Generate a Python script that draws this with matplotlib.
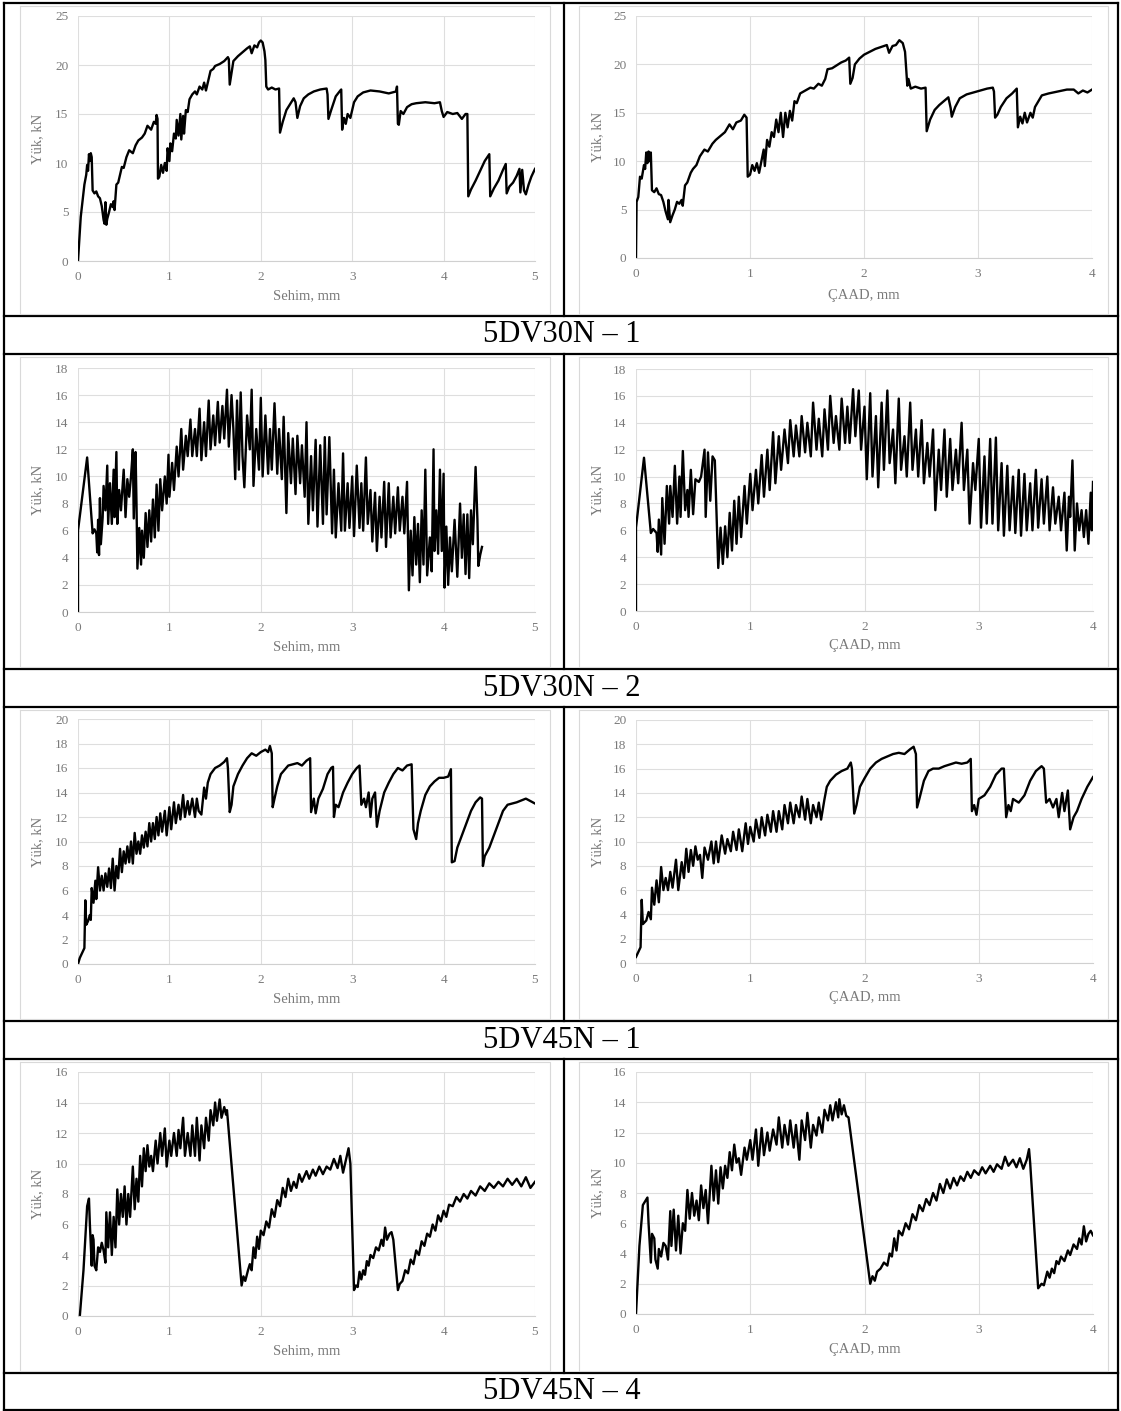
import matplotlib
matplotlib.use("Agg")
import matplotlib.pyplot as plt

plt.rcParams['font.family'] = ['Liberation Serif', 'DejaVu Serif']

# (deflection or CMOD [mm], load [kN])
dv30n1_sehim = [(0, 0), (0.03, 4.5), (0.05, 6.2), (0.07, 7.8), (0.09, 8.8), (0.1, 9.8), (0.11, 9.2), (0.12, 10.9),
    (0.13, 10.2), (0.14, 11.0), (0.15, 10.6), (0.16, 7.2), (0.18, 6.9), (0.2, 7.1), (0.22, 6.6), (0.24, 6.4),
    (0.26, 5.6), (0.28, 4.2), (0.29, 3.8), (0.3, 6.0), (0.31, 3.7), (0.32, 4.3), (0.34, 5.0), (0.36, 5.8),
    (0.38, 5.5), (0.39, 6.1), (0.4, 5.2), (0.42, 7.8), (0.44, 8.0), (0.46, 8.8), (0.48, 9.6), (0.5, 9.5),
    (0.53, 10.6), (0.56, 11.3), (0.6, 11.0), (0.63, 11.8), (0.66, 12.3), (0.7, 12.6), (0.73, 13.0), (0.76, 13.8),
    (0.8, 13.4), (0.83, 14.2), (0.85, 14.0), (0.86, 14.9), (0.87, 14.5), (0.875, 8.4), (0.89, 8.6), (0.91, 9.8),
    (0.93, 9.0), (0.95, 10.0), (0.97, 9.2), (0.98, 11.5), (1.0, 10.2), (1.01, 12.0), (1.03, 11.2), (1.05, 13.0),
    (1.07, 12.5), (1.08, 14.4), (1.1, 12.8), (1.12, 15.0), (1.13, 12.4), (1.15, 14.8), (1.16, 13.0), (1.18, 15.4),
    (1.2, 15.2), (1.22, 16.5), (1.25, 17.0), (1.28, 17.3), (1.3, 17.0), (1.33, 17.8), (1.36, 17.5), (1.38, 18.2),
    (1.4, 17.4), (1.43, 18.6), (1.45, 19.4), (1.48, 19.6), (1.5, 19.9), (1.55, 20.1), (1.6, 20.4), (1.64, 20.8),
    (1.65, 20.6), (1.66, 18.0), (1.68, 19.2), (1.7, 20.4), (1.75, 20.9), (1.8, 21.3), (1.85, 21.7), (1.88, 21.9),
    (1.9, 21.2), (1.93, 22.0), (1.96, 21.8), (1.98, 22.3), (2.0, 22.5), (2.02, 22.3), (2.04, 21.4), (2.05, 20.5),
    (2.06, 17.8), (2.08, 17.5), (2.12, 17.7), (2.16, 17.5), (2.2, 17.6), (2.21, 13.1), (2.24, 14.2), (2.28, 15.4),
    (2.32, 16.0), (2.36, 16.6), (2.38, 16.2), (2.4, 14.6), (2.43, 15.8), (2.47, 16.6), (2.52, 17.0), (2.58, 17.3),
    (2.65, 17.5), (2.72, 17.6), (2.73, 17.0), (2.74, 14.5), (2.77, 15.4), (2.82, 16.8), (2.87, 17.4), (2.88, 17.5),
    (2.89, 13.4), (2.91, 14.6), (2.93, 14.0), (2.95, 15.0), (2.98, 14.6), (3.02, 16.2), (3.06, 16.8), (3.12, 17.2),
    (3.2, 17.4), (3.3, 17.3), (3.4, 17.1), (3.48, 17.3), (3.49, 17.8), (3.5, 14.0), (3.51, 13.9), (3.53, 15.3),
    (3.56, 15.0), (3.6, 15.7), (3.65, 16.0), (3.7, 16.1), (3.8, 16.2), (3.9, 16.1), (3.96, 16.2), (3.98, 15.3),
    (4.0, 14.7), (4.04, 15.2), (4.1, 15.0), (4.15, 15.1), (4.2, 14.5), (4.24, 15.0), (4.26, 15.0), (4.27, 6.6),
    (4.3, 7.3), (4.35, 8.2), (4.4, 9.2), (4.45, 10.2), (4.5, 10.9), (4.51, 6.6), (4.55, 7.4), (4.6, 8.2),
    (4.65, 9.3), (4.68, 9.9), (4.69, 6.9), (4.72, 7.6), (4.76, 8.0), (4.8, 8.7), (4.83, 9.4), (4.84, 7.0),
    (4.86, 9.3), (4.88, 7.2), (4.9, 6.8), (4.93, 7.8), (4.96, 8.6), (5.0, 9.4)]

dv30n1_caad = [(0, 0), (0.005, 5.8), (0.02, 6.3), (0.035, 8.4), (0.05, 8.2), (0.07, 9.6), (0.08, 9.2), (0.09, 10.9),
    (0.1, 9.8), (0.11, 11.0), (0.12, 10.0), (0.13, 10.9), (0.14, 7.0), (0.16, 6.8), (0.18, 7.2), (0.2, 6.6),
    (0.22, 6.5), (0.24, 5.8), (0.26, 4.8), (0.28, 4.0), (0.285, 6.0), (0.3, 3.7), (0.32, 4.4), (0.34, 5.0),
    (0.36, 5.8), (0.38, 5.6), (0.4, 6.0), (0.41, 5.4), (0.43, 7.5), (0.45, 7.8), (0.48, 8.8), (0.5, 9.2),
    (0.53, 9.6), (0.56, 10.5), (0.6, 11.2), (0.63, 11.0), (0.67, 11.8), (0.7, 12.2), (0.74, 12.6), (0.78, 13.0),
    (0.82, 13.8), (0.85, 13.3), (0.88, 14.0), (0.92, 14.2), (0.95, 14.8), (0.97, 14.5), (0.98, 8.4), (1.0, 8.6),
    (1.02, 9.6), (1.04, 9.0), (1.06, 9.8), (1.08, 8.8), (1.1, 10.0), (1.12, 11.2), (1.13, 9.5), (1.15, 12.2),
    (1.17, 11.5), (1.19, 13.0), (1.21, 12.5), (1.23, 14.3), (1.25, 13.0), (1.27, 15.0), (1.29, 12.5), (1.31, 15.0),
    (1.33, 13.5), (1.35, 15.2), (1.37, 14.2), (1.39, 16.2), (1.41, 16.0), (1.44, 17.0), (1.47, 17.2), (1.5, 17.4),
    (1.53, 17.6), (1.56, 17.5), (1.6, 18.0), (1.63, 17.8), (1.66, 18.5), (1.68, 19.5), (1.72, 19.6), (1.76, 19.9),
    (1.8, 20.2), (1.84, 20.4), (1.87, 20.7), (1.88, 18.0), (1.9, 18.6), (1.92, 20.0), (1.96, 20.6), (2.0, 21.0),
    (2.05, 21.3), (2.1, 21.6), (2.15, 21.8), (2.2, 22.0), (2.22, 21.2), (2.25, 21.9), (2.28, 22.0), (2.31, 22.5),
    (2.34, 22.2), (2.36, 21.3), (2.38, 17.8), (2.39, 18.5), (2.41, 17.5), (2.45, 17.7), (2.5, 17.5), (2.54, 17.6),
    (2.55, 13.1), (2.58, 14.3), (2.62, 15.3), (2.66, 15.8), (2.7, 16.2), (2.74, 16.6), (2.76, 15.5), (2.77, 14.6),
    (2.8, 15.6), (2.84, 16.5), (2.9, 16.9), (2.96, 17.1), (3.02, 17.3), (3.08, 17.5), (3.13, 17.6), (3.14, 17.2),
    (3.15, 14.5), (3.17, 14.8), (3.2, 15.6), (3.25, 16.5), (3.3, 17.0), (3.34, 17.5), (3.35, 13.5), (3.37, 14.6),
    (3.39, 13.9), (3.41, 15.0), (3.43, 14.0), (3.46, 15.0), (3.48, 14.5), (3.5, 15.6), (3.53, 16.2), (3.56, 16.8),
    (3.62, 17.0), (3.7, 17.2), (3.78, 17.4), (3.84, 17.4), (3.88, 17.0), (3.92, 17.3), (3.96, 17.1), (4.0, 17.4)]

dv30n2_sehim = [(0, 0), (0, 6.0), (0.1, 11.4), (0.16, 5.8), (0.18, 6.1), (0.2, 5.8), (0.21, 4.4), (0.22, 6.8),
    (0.23, 4.2), (0.24, 8.4), (0.25, 5.0), (0.27, 7.0), (0.28, 9.3), (0.3, 7.5), (0.32, 10.8), (0.33, 6.5),
    (0.35, 9.5), (0.37, 6.5), (0.39, 10.5), (0.4, 7.0), (0.42, 11.8), (0.43, 6.5), (0.45, 9.0), (0.47, 7.5),
    (0.5, 10.5), (0.52, 7.0), (0.54, 9.8), (0.56, 8.5), (0.58, 10.0), (0.6, 12.0), (0.61, 6.9), (0.63, 11.8),
    (0.64, 8.0), (0.65, 3.2), (0.67, 6.2), (0.69, 3.5), (0.7, 6.0), (0.72, 4.0), (0.74, 7.3), (0.76, 4.8),
    (0.78, 7.5), (0.8, 5.2), (0.82, 8.3), (0.84, 5.5), (0.86, 9.4), (0.88, 6.0), (0.9, 9.8), (0.92, 7.5),
    (0.95, 10.0), (0.97, 8.0), (0.99, 11.6), (1.0, 8.5), (1.03, 11.0), (1.05, 9.0), (1.08, 12.2), (1.1, 10.0),
    (1.13, 13.5), (1.15, 10.5), (1.18, 13.0), (1.2, 11.5), (1.23, 14.2), (1.25, 11.5), (1.28, 13.5), (1.3, 11.5),
    (1.33, 15.0), (1.35, 11.2), (1.38, 14.0), (1.4, 11.5), (1.43, 15.6), (1.45, 12.0), (1.48, 14.5), (1.5, 12.3),
    (1.53, 15.5), (1.55, 12.5), (1.58, 15.2), (1.6, 12.8), (1.63, 16.4), (1.65, 12.2), (1.68, 16.0), (1.7, 13.5),
    (1.72, 9.8), (1.74, 15.6), (1.76, 10.5), (1.78, 16.2), (1.8, 11.5), (1.82, 9.2), (1.85, 14.5), (1.88, 12.0),
    (1.9, 16.4), (1.92, 9.3), (1.95, 13.5), (1.98, 10.5), (2.0, 15.8), (2.02, 10.0), (2.05, 14.5), (2.08, 10.2),
    (2.1, 13.5), (2.12, 10.5), (2.15, 15.4), (2.18, 10.2), (2.2, 13.5), (2.23, 9.8), (2.25, 14.4), (2.28, 7.3),
    (2.3, 13.2), (2.33, 9.5), (2.35, 12.8), (2.38, 8.7), (2.4, 13.0), (2.43, 9.5), (2.45, 12.3), (2.48, 8.5),
    (2.5, 14.0), (2.52, 6.5), (2.55, 11.5), (2.57, 7.5), (2.6, 12.7), (2.62, 6.3), (2.65, 12.3), (2.68, 6.5),
    (2.7, 12.9), (2.72, 7.2), (2.75, 12.9), (2.78, 5.8), (2.8, 10.5), (2.82, 5.5), (2.85, 9.5), (2.88, 6.0),
    (2.9, 11.7), (2.92, 6.0), (2.95, 9.5), (2.97, 6.2), (3.0, 10.0), (3.02, 5.6), (3.05, 10.8), (3.08, 6.2),
    (3.1, 9.5), (3.12, 6.0), (3.15, 11.4), (3.17, 6.5), (3.2, 9.0), (3.22, 5.2), (3.25, 8.8), (3.27, 4.5),
    (3.3, 8.5), (3.32, 5.5), (3.35, 9.6), (3.37, 4.8), (3.4, 9.5), (3.42, 5.5), (3.45, 8.5), (3.47, 5.8),
    (3.5, 9.2), (3.52, 6.0), (3.55, 8.5), (3.57, 5.8), (3.6, 9.6), (3.62, 1.6), (3.64, 6.0), (3.66, 2.7),
    (3.68, 7.0), (3.7, 3.5), (3.72, 6.5), (3.74, 2.2), (3.76, 7.5), (3.78, 3.5), (3.8, 10.5), (3.82, 2.7),
    (3.85, 5.5), (3.87, 3.0), (3.89, 12.0), (3.9, 4.5), (3.92, 7.5), (3.94, 4.3), (3.96, 10.5), (3.98, 4.5),
    (4.0, 10.2), (4.01, 1.8), (4.03, 6.3), (4.05, 2.0), (4.07, 5.5), (4.09, 3.0), (4.12, 6.8), (4.15, 2.6),
    (4.18, 8.0), (4.2, 4.0), (4.22, 7.2), (4.24, 2.8), (4.26, 7.2), (4.28, 2.5), (4.3, 7.5), (4.32, 5.0),
    (4.35, 10.7), (4.37, 6.8), (4.38, 3.4), (4.4, 4.2), (4.42, 4.8)]

dv30n2_caad = [(0, 0), (0, 6.2), (0.07, 11.4), (0.13, 5.8), (0.15, 6.1), (0.18, 5.8), (0.19, 4.4), (0.2, 6.8),
    (0.22, 4.2), (0.23, 8.4), (0.25, 5.0), (0.27, 9.3), (0.29, 6.5), (0.3, 9.3), (0.32, 7.0), (0.34, 10.8),
    (0.36, 6.5), (0.38, 10.0), (0.39, 7.0), (0.41, 11.9), (0.43, 7.5), (0.45, 9.0), (0.46, 7.0), (0.48, 10.5),
    (0.5, 7.2), (0.52, 9.8), (0.55, 9.6), (0.57, 10.0), (0.6, 12.0), (0.61, 7.0), (0.63, 11.8), (0.65, 8.2),
    (0.67, 11.5), (0.69, 11.2), (0.72, 3.2), (0.74, 6.2), (0.76, 3.5), (0.78, 6.3), (0.8, 4.0), (0.82, 7.3),
    (0.84, 4.5), (0.86, 8.2), (0.88, 5.0), (0.9, 8.5), (0.92, 5.5), (0.95, 9.3), (0.97, 6.5), (1.0, 10.2),
    (1.02, 7.5), (1.05, 10.5), (1.07, 8.0), (1.1, 11.6), (1.12, 8.5), (1.15, 12.0), (1.17, 9.0), (1.2, 13.3),
    (1.22, 9.5), (1.25, 13.0), (1.27, 10.5), (1.3, 13.5), (1.33, 11.0), (1.35, 14.2), (1.38, 11.5), (1.4, 13.8),
    (1.43, 11.5), (1.45, 14.5), (1.48, 11.8), (1.5, 14.0), (1.53, 11.5), (1.55, 15.5), (1.58, 12.0), (1.6, 14.3),
    (1.63, 11.5), (1.65, 15.0), (1.68, 12.0), (1.7, 16.0), (1.73, 12.5), (1.75, 14.5), (1.78, 12.0), (1.8, 15.8),
    (1.83, 12.5), (1.85, 15.2), (1.87, 12.5), (1.9, 16.5), (1.92, 13.0), (1.95, 16.4), (1.97, 12.0), (2.0, 15.2),
    (2.02, 9.8), (2.05, 16.2), (2.07, 10.0), (2.1, 14.5), (2.12, 9.2), (2.15, 15.5), (2.17, 10.5), (2.2, 16.4),
    (2.22, 11.0), (2.25, 13.5), (2.27, 9.5), (2.3, 15.8), (2.32, 10.5), (2.35, 13.0), (2.37, 10.0), (2.4, 15.5),
    (2.42, 10.5), (2.45, 13.5), (2.47, 10.0), (2.5, 14.2), (2.52, 9.5), (2.55, 12.5), (2.57, 10.0), (2.6, 13.5),
    (2.62, 7.5), (2.65, 12.0), (2.67, 9.0), (2.7, 13.5), (2.72, 8.5), (2.75, 12.8), (2.77, 9.0), (2.8, 12.0),
    (2.82, 9.5), (2.85, 14.0), (2.87, 9.0), (2.9, 12.0), (2.92, 6.5), (2.95, 11.0), (2.97, 9.0), (3.0, 12.8),
    (3.02, 6.2), (3.05, 11.5), (3.07, 6.5), (3.1, 12.8), (3.12, 6.5), (3.15, 12.9), (3.17, 6.0), (3.2, 11.0),
    (3.22, 5.6), (3.25, 10.8), (3.27, 6.0), (3.3, 10.0), (3.32, 5.8), (3.35, 10.5), (3.37, 5.6), (3.4, 10.2),
    (3.42, 6.0), (3.45, 9.5), (3.47, 6.0), (3.5, 10.5), (3.52, 6.2), (3.55, 9.8), (3.57, 6.5), (3.6, 10.0),
    (3.62, 6.0), (3.65, 9.2), (3.67, 6.5), (3.7, 8.5), (3.72, 6.0), (3.75, 8.8), (3.77, 4.5), (3.79, 8.5),
    (3.8, 7.0), (3.82, 11.2), (3.84, 4.5), (3.86, 8.0), (3.88, 6.0), (3.9, 7.5), (3.92, 5.5), (3.94, 7.5),
    (3.96, 5.0), (3.98, 8.8), (3.99, 6.0), (4.0, 9.6)]

dv45n1_sehim = [(0, 0), (0.02, 0.5), (0.07, 1.3), (0.08, 5.2), (0.09, 3.2), (0.11, 3.5), (0.13, 4.0), (0.14, 3.6),
    (0.15, 6.2), (0.17, 5.0), (0.19, 6.8), (0.2, 5.3), (0.22, 7.9), (0.24, 6.0), (0.26, 7.2), (0.28, 6.0),
    (0.3, 7.4), (0.32, 6.3), (0.34, 7.8), (0.36, 6.2), (0.38, 8.6), (0.4, 6.0), (0.42, 8.0), (0.44, 7.0),
    (0.46, 9.4), (0.48, 7.5), (0.5, 9.2), (0.52, 8.2), (0.54, 9.6), (0.56, 8.3), (0.58, 10.0), (0.6, 8.2),
    (0.62, 10.7), (0.64, 9.0), (0.66, 10.0), (0.68, 9.0), (0.7, 10.5), (0.72, 9.5), (0.74, 10.8), (0.76, 9.6),
    (0.78, 11.5), (0.8, 10.0), (0.82, 11.5), (0.84, 10.2), (0.86, 12.0), (0.88, 10.5), (0.9, 12.3), (0.92, 10.8),
    (0.95, 12.5), (0.97, 10.5), (1.0, 12.8), (1.02, 11.0), (1.05, 13.2), (1.07, 11.5), (1.1, 13.0), (1.12, 11.8),
    (1.15, 13.8), (1.17, 12.0), (1.2, 13.3), (1.22, 12.2), (1.25, 13.5), (1.28, 12.0), (1.3, 13.5), (1.32, 12.5),
    (1.35, 12.2), (1.38, 14.4), (1.4, 13.5), (1.42, 14.8), (1.45, 15.5), (1.5, 16.0), (1.55, 16.2), (1.6, 16.5),
    (1.63, 16.8), (1.64, 16.0), (1.66, 12.4), (1.68, 13.0), (1.7, 14.5), (1.75, 15.5), (1.8, 16.2), (1.85, 16.8),
    (1.9, 17.2), (1.95, 17.0), (2.0, 17.3), (2.05, 17.5), (2.08, 17.3), (2.1, 17.8), (2.12, 17.2), (2.13, 12.8),
    (2.15, 13.5), (2.18, 14.5), (2.22, 15.5), (2.3, 16.2), (2.4, 16.4), (2.45, 16.2), (2.5, 16.6), (2.54, 16.8),
    (2.55, 12.4), (2.58, 13.5), (2.6, 12.3), (2.63, 13.5), (2.68, 14.3), (2.73, 15.5), (2.77, 16.0), (2.79, 16.1),
    (2.8, 12.0), (2.82, 13.0), (2.85, 12.8), (2.9, 14.0), (2.95, 14.8), (3.0, 15.5), (3.05, 16.0), (3.08, 16.2),
    (3.1, 13.0), (3.13, 13.5), (3.15, 12.8), (3.18, 14.0), (3.2, 12.0), (3.22, 13.5), (3.25, 14.0), (3.27, 11.2),
    (3.3, 12.5), (3.35, 14.0), (3.4, 14.8), (3.45, 15.5), (3.5, 16.0), (3.55, 15.8), (3.6, 16.2), (3.65, 16.3),
    (3.67, 11.0), (3.7, 10.2), (3.72, 11.5), (3.75, 12.5), (3.8, 13.8), (3.85, 14.5), (3.9, 14.9), (3.95, 15.2),
    (4.0, 15.2), (4.05, 15.3), (4.08, 15.9), (4.09, 8.3), (4.12, 8.4), (4.15, 9.5), (4.2, 10.5), (4.25, 11.5),
    (4.3, 12.5), (4.35, 13.2), (4.4, 13.6), (4.42, 13.5), (4.43, 8.0), (4.45, 8.8), (4.5, 9.5), (4.55, 10.5),
    (4.6, 11.5), (4.65, 12.5), (4.7, 13.0), (4.8, 13.2), (4.9, 13.5), (4.95, 13.3), (5.0, 13.1)]

dv45n1_caad = [(0, 0.5), (0.04, 1.3), (0.05, 5.2), (0.06, 3.2), (0.09, 3.5), (0.11, 4.2), (0.13, 3.6), (0.14, 6.2),
    (0.16, 4.8), (0.18, 6.8), (0.2, 5.0), (0.22, 7.9), (0.24, 6.0), (0.26, 7.0), (0.28, 6.0), (0.3, 7.5),
    (0.32, 6.2), (0.35, 8.5), (0.37, 6.0), (0.4, 8.3), (0.42, 7.0), (0.44, 9.4), (0.46, 7.5), (0.48, 9.3),
    (0.5, 8.0), (0.52, 9.6), (0.54, 8.5), (0.56, 8.9), (0.58, 7.0), (0.6, 9.5), (0.63, 8.5), (0.66, 10.0),
    (0.68, 8.2), (0.7, 10.0), (0.72, 8.3), (0.75, 10.5), (0.78, 9.0), (0.8, 10.2), (0.83, 9.2), (0.85, 10.8),
    (0.88, 9.3), (0.9, 11.0), (0.93, 9.2), (0.96, 11.5), (0.98, 9.8), (1.0, 11.2), (1.03, 10.0), (1.05, 11.8),
    (1.08, 10.3), (1.1, 12.0), (1.13, 10.5), (1.15, 12.2), (1.18, 10.8), (1.2, 12.5), (1.23, 10.8), (1.25, 12.5),
    (1.28, 11.0), (1.3, 13.0), (1.33, 11.5), (1.35, 13.2), (1.38, 11.5), (1.4, 13.0), (1.43, 12.0), (1.45, 13.7),
    (1.48, 11.8), (1.5, 13.5), (1.53, 11.5), (1.55, 13.0), (1.58, 12.0), (1.6, 13.2), (1.62, 11.8), (1.65, 13.5),
    (1.67, 14.5), (1.7, 15.0), (1.75, 15.5), (1.8, 15.8), (1.85, 16.0), (1.88, 16.5), (1.89, 16.0), (1.91, 12.3),
    (1.93, 13.0), (1.96, 14.5), (2.0, 15.2), (2.05, 16.0), (2.1, 16.5), (2.15, 16.8), (2.2, 17.0), (2.25, 17.2),
    (2.3, 17.3), (2.35, 17.2), (2.4, 17.6), (2.43, 17.8), (2.45, 17.2), (2.46, 12.8), (2.48, 13.5), (2.52, 15.0),
    (2.56, 15.8), (2.6, 16.0), (2.65, 16.0), (2.7, 16.2), (2.8, 16.5), (2.85, 16.4), (2.9, 16.5), (2.93, 16.8),
    (2.94, 12.5), (2.96, 13.0), (2.98, 12.2), (3.0, 13.5), (3.05, 13.8), (3.1, 14.5), (3.15, 15.5), (3.2, 16.0),
    (3.22, 16.0), (3.24, 12.0), (3.26, 13.0), (3.28, 12.5), (3.3, 13.5), (3.35, 13.2), (3.4, 13.8), (3.45, 15.0),
    (3.5, 15.8), (3.55, 16.2), (3.57, 16.0), (3.59, 13.2), (3.62, 13.5), (3.65, 12.8), (3.68, 13.5), (3.7, 12.0),
    (3.73, 14.0), (3.75, 12.5), (3.78, 14.2), (3.8, 11.0), (3.83, 12.0), (3.86, 12.5), (3.9, 13.5), (3.95, 14.5),
    (4.0, 15.3)]

dv45n4_sehim = [(0.02, 0), (0.06, 3.0), (0.1, 7.2), (0.12, 7.7), (0.13, 6.0), (0.15, 3.3), (0.16, 5.3), (0.17, 5.0),
    (0.18, 3.3), (0.2, 3.0), (0.22, 4.5), (0.24, 4.2), (0.26, 4.8), (0.28, 4.3), (0.3, 3.5), (0.31, 6.8),
    (0.33, 4.5), (0.35, 6.8), (0.37, 4.0), (0.39, 6.5), (0.41, 4.5), (0.43, 8.3), (0.45, 6.0), (0.47, 8.0),
    (0.49, 6.5), (0.51, 8.5), (0.53, 6.0), (0.55, 8.0), (0.57, 6.5), (0.6, 9.8), (0.62, 7.0), (0.64, 9.0),
    (0.66, 7.5), (0.68, 10.5), (0.7, 8.5), (0.72, 11.0), (0.74, 9.5), (0.76, 11.2), (0.78, 9.8), (0.8, 10.5),
    (0.82, 9.5), (0.85, 11.5), (0.87, 10.0), (0.9, 12.0), (0.92, 10.5), (0.95, 12.3), (0.97, 9.8), (1.0, 11.5),
    (1.02, 10.5), (1.05, 12.0), (1.08, 10.5), (1.1, 12.2), (1.12, 11.0), (1.15, 13.0), (1.17, 10.5), (1.2, 12.0),
    (1.23, 10.5), (1.25, 12.5), (1.28, 10.5), (1.3, 13.0), (1.33, 10.2), (1.35, 12.5), (1.38, 11.0), (1.4, 13.0),
    (1.43, 11.5), (1.45, 13.5), (1.48, 12.5), (1.5, 14.0), (1.52, 12.8), (1.55, 14.2), (1.57, 13.0), (1.6, 13.7),
    (1.62, 13.2), (1.63, 13.5), (1.79, 2.0), (1.81, 2.6), (1.83, 2.3), (1.86, 3.0), (1.88, 3.4), (1.9, 3.0),
    (1.92, 4.5), (1.94, 3.8), (1.96, 5.2), (1.98, 4.4), (2.0, 5.6), (2.03, 5.3), (2.06, 6.2), (2.09, 5.8),
    (2.12, 7.0), (2.15, 6.5), (2.18, 7.6), (2.21, 7.2), (2.24, 8.4), (2.27, 7.8), (2.3, 9.0), (2.33, 8.2),
    (2.36, 8.8), (2.39, 8.4), (2.42, 9.3), (2.45, 8.8), (2.5, 9.5), (2.53, 9.0), (2.57, 9.6), (2.6, 9.2),
    (2.64, 9.8), (2.68, 9.3), (2.72, 9.8), (2.76, 9.6), (2.8, 10.3), (2.84, 9.7), (2.87, 10.5), (2.9, 9.4),
    (2.93, 10.2), (2.96, 11.0), (2.98, 10.0), (3.02, 1.7), (3.04, 2.0), (3.06, 1.9), (3.08, 2.9), (3.1, 2.4),
    (3.12, 3.0), (3.14, 2.7), (3.16, 3.6), (3.18, 3.3), (3.2, 4.0), (3.23, 3.8), (3.26, 4.5), (3.29, 4.3),
    (3.32, 5.0), (3.34, 4.6), (3.36, 5.8), (3.38, 5.0), (3.41, 5.4), (3.43, 5.5), (3.45, 5.0), (3.5, 1.7),
    (3.52, 2.1), (3.55, 2.3), (3.58, 3.0), (3.61, 2.8), (3.64, 3.7), (3.67, 3.4), (3.7, 4.3), (3.73, 4.0),
    (3.76, 4.9), (3.79, 4.6), (3.82, 5.4), (3.85, 5.2), (3.88, 6.0), (3.91, 5.6), (3.94, 6.6), (3.97, 6.2),
    (4.0, 6.9), (4.03, 6.5), (4.06, 7.3), (4.1, 7.2), (4.14, 7.8), (4.18, 7.5), (4.22, 8.0), (4.26, 7.7),
    (4.3, 8.2), (4.35, 7.9), (4.4, 8.5), (4.45, 8.2), (4.5, 8.7), (4.55, 8.4), (4.6, 8.8), (4.65, 8.5),
    (4.7, 9.0), (4.75, 8.6), (4.8, 9.0), (4.85, 8.5), (4.9, 9.1), (4.95, 8.4), (5.0, 8.8)]

dv45n4_caad = [(0, 0), (0.03, 4.5), (0.06, 7.2), (0.1, 7.7), (0.11, 6.0), (0.13, 3.4), (0.14, 5.3), (0.16, 5.0),
    (0.17, 3.6), (0.19, 3.0), (0.2, 4.3), (0.22, 3.8), (0.24, 4.7), (0.26, 4.5), (0.28, 3.6), (0.3, 6.8),
    (0.31, 4.5), (0.33, 6.9), (0.35, 4.2), (0.37, 6.5), (0.39, 4.0), (0.41, 6.0), (0.43, 5.5), (0.45, 8.2),
    (0.47, 6.3), (0.49, 8.0), (0.51, 6.5), (0.53, 7.5), (0.55, 6.2), (0.57, 8.5), (0.59, 7.0), (0.61, 8.2),
    (0.63, 6.0), (0.66, 9.8), (0.68, 7.5), (0.7, 9.5), (0.72, 7.3), (0.74, 9.7), (0.76, 8.3), (0.78, 9.8),
    (0.8, 9.0), (0.82, 10.7), (0.84, 9.5), (0.86, 11.2), (0.88, 10.0), (0.9, 10.3), (0.92, 9.2), (0.95, 11.0),
    (0.97, 10.2), (1.0, 11.5), (1.02, 10.2), (1.05, 12.2), (1.07, 9.8), (1.1, 12.3), (1.12, 10.5), (1.15, 12.0),
    (1.17, 10.8), (1.2, 12.2), (1.23, 11.2), (1.25, 13.0), (1.28, 11.0), (1.3, 12.5), (1.33, 11.2), (1.35, 12.8),
    (1.38, 11.0), (1.4, 12.5), (1.43, 10.2), (1.45, 12.8), (1.48, 11.5), (1.5, 13.3), (1.53, 11.0), (1.55, 12.5),
    (1.58, 11.8), (1.6, 13.0), (1.63, 12.0), (1.65, 13.5), (1.68, 12.8), (1.7, 13.8), (1.72, 12.8), (1.75, 14.0),
    (1.77, 13.0), (1.78, 14.2), (1.8, 13.2), (1.82, 13.8), (1.84, 13.1), (1.86, 13.0), (2.05, 2.0), (2.07, 2.5),
    (2.09, 2.2), (2.11, 2.8), (2.14, 3.0), (2.17, 3.4), (2.2, 3.2), (2.22, 4.0), (2.24, 3.8), (2.26, 5.0),
    (2.28, 4.2), (2.3, 5.5), (2.33, 5.2), (2.36, 6.0), (2.39, 5.6), (2.42, 6.6), (2.45, 6.2), (2.48, 7.2),
    (2.51, 6.8), (2.54, 7.6), (2.57, 7.2), (2.6, 8.0), (2.63, 7.5), (2.66, 8.6), (2.69, 8.0), (2.72, 8.9),
    (2.75, 8.3), (2.78, 9.0), (2.81, 8.5), (2.84, 9.1), (2.87, 8.8), (2.9, 9.4), (2.93, 9.0), (2.96, 9.5),
    (3.0, 9.2), (3.03, 9.7), (3.06, 9.3), (3.1, 9.8), (3.13, 9.4), (3.16, 9.9), (3.2, 9.6), (3.23, 10.4),
    (3.26, 9.8), (3.3, 10.2), (3.33, 9.7), (3.36, 10.3), (3.39, 9.6), (3.42, 10.2), (3.44, 10.9), (3.45, 10.0),
    (3.52, 1.7), (3.55, 2.0), (3.57, 1.9), (3.6, 2.8), (3.62, 2.4), (3.64, 3.0), (3.66, 2.7), (3.68, 3.5),
    (3.7, 3.3), (3.72, 3.8), (3.75, 3.5), (3.78, 4.2), (3.8, 3.9), (3.83, 4.6), (3.86, 4.3), (3.88, 5.0),
    (3.9, 4.6), (3.92, 5.8), (3.94, 4.8), (3.96, 5.3), (3.98, 5.5), (4.0, 5.2)]

row_labels = ['5DV30N \u2013 1', '5DV30N \u2013 2', '5DV45N \u2013 1', '5DV45N \u2013 4']
row_data = [(dv30n1_sehim, dv30n1_caad), (dv30n2_sehim, dv30n2_caad),
            (dv45n1_sehim, dv45n1_caad), (dv45n4_sehim, dv45n4_caad)]
y_max = [25, 18, 20, 16]
y_step = [5, 2, 2, 2]
x_max = [5, 4]
x_titles = ['Sehim, mm', '\u00c7AAD, mm']
y_title = 'Y\u00fck, kN'

W, H = 1121, 1411
fig = plt.figure(figsize=(W / 100, H / 100), dpi=100)

# table grid drawn in pixel coordinates
bg = fig.add_axes([0, 0, 1, 1])
bg.set_xlim(0, W)
bg.set_ylim(H, 0)
bg.axis('off')

row_tops = [3, 354, 707, 1059]
row_bots = [316, 669, 1021, 1373]
label_bots = [354, 707, 1059, 1410]
L, R, MID = 4, 1118, 564
for top, bot, lab in zip(row_tops, row_bots, label_bots):
    bg.plot([L, R], [top, top], color='black', lw=1.6)
    bg.plot([L, R], [bot, bot], color='black', lw=1.6)
    bg.plot([MID, MID], [top, bot], color='black', lw=1.6)
bg.plot([L, R], [1410, 1410], color='black', lw=1.6)
bg.plot([L, L], [3, 1410], color='black', lw=1.6)
bg.plot([R, R], [3, 1410], color='black', lw=1.6)

for i, txt in enumerate(row_labels):
    bg.text(562, (row_bots[i] + label_bots[i]) / 2, txt, ha='center', va='center',
            fontsize=22, color='black')

# chart frames (light grey outline of each embedded chart)
frame_x = [(20, 550), (579, 1108)]
for top, bot in zip(row_tops, row_bots):
    for fx0, fx1 in frame_x:
        bg.plot([fx0, fx1, fx1, fx0, fx0], [top + 3, top + 3, bot - 2, bot - 2, top + 3],
                color='#d9d9d9', lw=0.8)

# plot-area positions in pixels: (left, top, right, bottom)
plot_boxes = [
    [(78, 16, 535, 261), (636, 16, 1092, 258)],
    [(78, 368, 535, 612), (636, 369, 1093, 611)],
    [(78, 719, 535, 964), (636, 720, 1093, 963)],
    [(78, 1072, 535, 1316), (636, 1072, 1093, 1314)],
]
ylab_x = [38, 598]
xlab_y = [[296, 296], [647, 646], [999, 997], [1351, 1349]]

grey = '#7a7a7a'
for r in range(4):
    for c in range(2):
        x0, y0, x1, y1 = plot_boxes[r][c]
        ax = fig.add_axes([x0 / W, 1 - y1 / H, (x1 - x0) / W, (y1 - y0) / H])
        ax.patch.set_alpha(0)
        pts = row_data[r][c]
        xs = [p[0] for p in pts]
        ys = [p[1] for p in pts]
        ax.plot(xs, ys, color='black', lw=1.7, solid_joinstyle='round')
        ax.set_xlim(0, x_max[c])
        ax.set_ylim(0, y_max[r])
        ax.set_xticks(range(0, x_max[c] + 1))
        ax.set_yticks(range(0, y_max[r] + 1, y_step[r]))
        ax.grid(True, color='#dedede', lw=0.8)
        ax.set_axisbelow(True)
        for s in ['top', 'right', 'left']:
            ax.spines[s].set_visible(False)
        ax.spines['bottom'].set_color('#d0d0d0')
        ax.spines['bottom'].set_linewidth(0.8)
        ax.tick_params(length=0, colors=grey, labelsize=9.5, pad=7)
        w = x1 - x0
        h = y1 - y0
        ax.text((ylab_x[c] - x0) / w, 0.5, y_title, rotation=90, ha='center', va='center',
                transform=ax.transAxes, fontsize=10.5, color=grey)
        ax.text(0.5, (y1 - xlab_y[r][c]) / h, x_titles[c], ha='center', va='center',
                transform=ax.transAxes, fontsize=10.5, color=grey)

fig.savefig('out.png', dpi=100)
